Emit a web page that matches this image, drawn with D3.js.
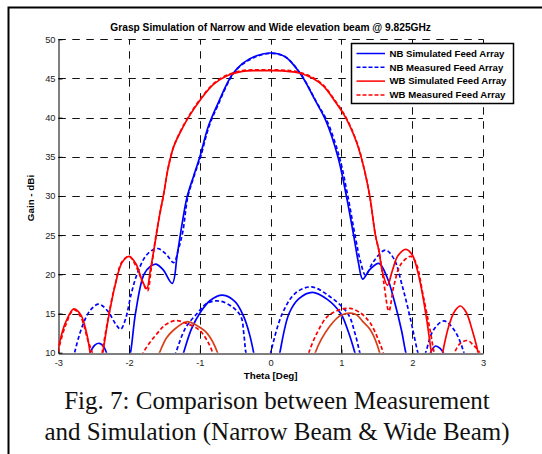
<!DOCTYPE html>
<html>
<head>
<meta charset="utf-8">
<script src="https://cdn.jsdelivr.net/npm/d3@7"></script>
<style>
body { margin: 0; background: #fff; }
svg { display: block; }
</style>
</head>
<body>
<div id="vis"></div>
<script>
// [theta (deg), gain (dBi)]; points under 10 are cut by the clip
const nbSim = [
  [-3.05, 6], [-2.6, 8], [-2.55, 10], [-2.48, 11.0], [-2.42, 11.2], [-2.36, 10.8], [-2.32, 10],
  [-2.2, 7], [-2.05, 7.5], [-1.98, 10], [-1.91, 15], [-1.79, 20], [-1.7, 21], [-1.62, 21.3],
  [-1.52, 20.6], [-1.39, 18.85], [-1.32, 22.5], [-1.25, 26.5], [-1.18, 29.9], [-1.09, 32.5],
  [-1.0, 35], [-0.88, 38.9], [-0.75, 41.7], [-0.55, 45.4], [-0.4, 46.9], [-0.2, 47.9],
  [0, 48.25], [0.2, 47.8], [0.42, 45.6], [0.63, 42.2], [0.78, 39.6], [0.95, 35], [1.07, 30],
  [1.18, 24.6], [1.24, 21.5], [1.3, 19.4], [1.4, 20.6], [1.53, 21.4], [1.65, 19.5],
  [1.75, 16.5], [1.85, 12.8], [1.91, 10], [2.0, 7], [2.2, 7.5], [2.26, 10], [2.33, 10.85],
  [2.4, 10.5], [2.44, 10], [2.55, 7], [3.05, 6]
]
const nbSimLow = [
  [-1.3, 8], [-1.23, 10], [-1.12, 13.0], [-0.99, 15.2], [-0.85, 16.7], [-0.68, 17.35],
  [-0.5, 16.5], [-0.38, 14.6], [-0.3, 12.4], [-0.24, 10], [-0.2, 8], [0.0, 5], [0.09, 8],
  [0.13, 10], [0.26, 15], [0.4, 16.9], [0.59, 17.7], [0.8, 16.8], [0.99, 15], [1.1, 12.6],
  [1.19, 10], [1.25, 8]
]
const nbMeas = [
  [-3.05, 5], [-2.83, 7.5], [-2.77, 10], [-2.66, 13.4], [-2.55, 15.4], [-2.43, 16.2],
  [-2.3, 15.3], [-2.2, 13.8], [-2.12, 13.0], [-2.05, 14.3], [-1.97, 17.5], [-1.88, 20.2],
  [-1.75, 22.5], [-1.6, 23.3], [-1.48, 22.6], [-1.37, 21.5], [-1.3, 23.3], [-1.24, 25.5],
  [-1.17, 29.9], [-1.08, 32.6], [-0.99, 35], [-0.87, 38.9], [-0.74, 41.7], [-0.55, 45.3],
  [-0.4, 46.8], [-0.2, 47.8], [0, 48.2], [0.2, 47.8], [0.43, 45.5], [0.64, 42.1],
  [0.8, 39.5], [0.97, 35], [1.09, 30], [1.2, 24.6], [1.27, 21.6], [1.34, 19.9],
  [1.45, 21.6], [1.62, 23.1], [1.74, 22.0], [1.86, 18.5], [1.97, 14.5], [2.08, 10],
  [2.13, 8.5], [2.19, 10], [2.3, 12.9], [2.45, 14.05], [2.6, 12.8], [2.73, 10], [2.8, 7],
  [3.05, 5]
]
const nbMeasLow = [
  [-1.42, 8], [-1.34, 10], [-1.2, 13.2], [-1.04, 15], [-0.9, 16.3], [-0.73, 16.6],
  [-0.55, 15.9], [-0.42, 14.6], [-0.38, 12.5], [-0.35, 10], [-0.3, 8], [-0.15, 5],
  [-0.05, 8], [0.0, 10], [0.165, 15], [0.35, 17.6], [0.57, 18.4], [0.8, 17.4], [1.09, 15],
  [1.19, 12.5], [1.26, 10], [1.32, 8]
]
const wbSim = [
  [-3.05, 9], [-3.0, 10.7], [-2.9, 13.8], [-2.78, 15.6], [-2.68, 14.8], [-2.6, 12.5],
  [-2.55, 10], [-2.5, 7], [-2.42, 7], [-2.37, 10], [-2.3, 14], [-2.2, 18.5], [-2.1, 21.5],
  [-2.0, 22.3], [-1.9, 21.3], [-1.82, 19.3], [-1.75, 18.2], [-1.7, 20.5], [-1.63, 24.2],
  [-1.57, 27.5], [-1.51, 30.3], [-1.45, 33.5], [-1.37, 36.3], [-1.25, 38.6], [-1.15, 40.2],
  [-1.0, 42.2], [-0.8, 44.3], [-0.6, 45.4], [-0.4, 45.9], [-0.2, 46.0], [0, 46.0],
  [0.2, 45.95], [0.4, 45.7], [0.6, 45.0], [0.75, 44.0], [0.9, 42.2], [1.06, 40],
  [1.22, 36.7], [1.32, 33.5], [1.4, 30], [1.48, 25], [1.53, 23], [1.58, 20.3], [1.65, 18.6],
  [1.72, 20.5], [1.8, 22.4], [1.91, 23.2], [2.0, 22.5], [2.1, 19.5], [2.2, 14.5], [2.27, 10],
  [2.32, 7], [2.38, 7], [2.43, 10], [2.52, 13.5], [2.6, 15.3], [2.68, 15.96], [2.76, 15.2],
  [2.85, 12.8], [2.93, 10], [2.97, 7]
]
const wbSimLow = [
  [-1.65, 8], [-1.57, 10], [-1.47, 11.9], [-1.37, 12.9], [-1.18, 13.96], [-1.05, 13.5],
  [-0.9, 12.5], [-0.75, 10], [-0.7, 8], [0, 4], [0.58, 8], [0.63, 10], [0.83, 13.3],
  [1.0, 14.8], [1.2, 14.9], [1.3, 14.0], [1.41, 12.9], [1.54, 10], [1.58, 8]
]
const wbMeas = [
  [-3.05, 8.5], [-3.0, 10.3], [-2.9, 13.4], [-2.78, 15.5], [-2.68, 14.5], [-2.58, 11.5],
  [-2.52, 10], [-2.46, 7], [-2.43, 7], [-2.38, 10], [-2.3, 14.2], [-2.2, 18.6], [-2.1, 21.6],
  [-2.0, 22.3], [-1.9, 21.0], [-1.8, 18.8], [-1.74, 17.9], [-1.69, 20.5], [-1.63, 24.4],
  [-1.57, 27.5], [-1.51, 30.3], [-1.45, 33.5], [-1.37, 36.3], [-1.25, 38.7], [-1.15, 40.3],
  [-1.0, 42.3], [-0.8, 44.4], [-0.6, 45.5], [-0.4, 46.0], [-0.2, 46.1], [0, 46.1],
  [0.2, 46.05], [0.4, 45.8], [0.6, 45.1], [0.75, 44.1], [0.9, 42.3], [1.06, 40.1],
  [1.22, 36.8], [1.32, 33.5], [1.4, 30], [1.48, 25], [1.53, 23], [1.6, 18.85], [1.67, 15.3],
  [1.74, 18.5], [1.84, 21.3], [1.98, 22.3], [2.06, 21.3], [2.15, 17.5], [2.25, 13], [2.31, 10],
  [2.4, 7], [2.53, 7], [2.6, 10], [2.68, 11.2], [2.78, 11.55], [2.86, 11.0], [2.95, 10],
  [3.0, 8]
]
const wbMeasLow = [
  [-1.88, 8], [-1.8, 10], [-1.6, 12.5], [-1.48, 13.6], [-1.34, 14.1], [-1.18, 13.7],
  [-1.01, 12.9], [-0.9, 11.6], [-0.82, 10], [-0.77, 8], [0, 4], [0.49, 8], [0.54, 10],
  [0.66, 12.6], [0.8, 14.6], [0.95, 15.4], [1.12, 15.66], [1.28, 15.0], [1.41, 13.75],
  [1.52, 11.7], [1.59, 10], [1.63, 8]
]

const xTicks = [-3, -2, -1, 0, 1, 2, 3]
const yTicks = [10, 15, 20, 25, 30, 35, 40, 45, 50]
const legendLabels = ["NB Simulated Feed Array", "NB Measured Feed Array", "WB Simulated Feed Array", "WB Measured Feed Array"]

const titleText = "Grasp Simulation of Narrow and Wide elevation beam @ 9.825GHz"
const captionLines = ["Fig. 7: Comparison between Measurement", "and Simulation (Narrow Beam & Wide Beam)"]

const width = 542, height = 454
const plot = {left: 58.3, right: 483, top: 39.3, bottom: 352.7}

let x = d3.scaleLinear().domain([-3, 3]).range([plot.left, plot.right])
let y = d3.scaleLinear().domain([10, 50]).range([plot.bottom, plot.top])

let svg = d3.select("#vis").append("svg")
    .attr("width", width)
    .attr("height", height)
    .attr("font-family", "'Liberation Sans', Arial, sans-serif")

svg.append("rect").attr("width", width).attr("height", height).attr("fill", "#fff")

// page frame (only top and left edges are in the picture)
svg.append("path")
    .attr("d", `M8.5,${height} V7.5 H${width}`)
    .attr("fill", "none")
    .attr("stroke", "#000")
    .attr("stroke-width", 2)

svg.append("clipPath").attr("id", "clip")
    .append("rect")
    .attr("x", plot.left).attr("y", plot.top)
    .attr("width", plot.right - plot.left).attr("height", plot.bottom - plot.top)

// grid
let grid = svg.append("g")
    .attr("stroke", "#111")
    .attr("stroke-width", 1)
    .attr("stroke-dasharray", "7.5,6.5")

grid.selectAll(".vx")
    .data(xTicks.slice(1))
    .join("line")
    .attr("x1", d => Math.round(x(d)) + 0.5).attr("x2", d => Math.round(x(d)) + 0.5)
    .attr("y1", plot.bottom).attr("y2", plot.top)

grid.selectAll(".hy")
    .data(yTicks.slice(1))
    .join("line")
    .attr("y1", d => Math.round(y(d)) + 0.5).attr("y2", d => Math.round(y(d)) + 0.5)
    .attr("x1", plot.left).attr("x2", plot.right)

// axes
let xAxis = svg.append("g")
    .attr("transform", `translate(0,${Math.round(plot.bottom) + 0.5})`)
    .call(d3.axisBottom(x).tickValues(xTicks).tickFormat(d => String(d))
        .tickSizeInner(-4).tickSizeOuter(0).tickPadding(6))
let yAxis = svg.append("g")
    .attr("transform", `translate(${Math.round(plot.left) + 0.5},0)`)
    .call(d3.axisLeft(y).tickValues(yTicks).tickFormat(d => String(d))
        .tickSizeInner(-4).tickSizeOuter(0).tickPadding(3))

svg.selectAll(".tick text")
    .attr("font-size", 9.3)
    .attr("font-family", "'Liberation Sans', Arial, sans-serif")
    .attr("fill", "#222")
svg.selectAll(".domain, .tick line").attr("stroke", "#000")

// curves
let line = d3.line()
    .x(d => x(d[0]))
    .y(d => y(d[1]))
    .curve(d3.curveCatmullRom.alpha(0.5))

const series = [
  {data: nbSim, color: "#0000ff", dash: null},
  {data: nbSimLow, color: "#0000ff", dash: null},
  {data: nbMeas, color: "#0000ff", dash: "4,2.5"},
  {data: nbMeasLow, color: "#0000ff", dash: "4,2.5"},
  {data: wbSim, color: "#ff0000", dash: null},
  {data: wbSimLow, color: "#d8401a", dash: null},
  {data: wbMeas, color: "#ff0000", dash: "4,2.5"},
  {data: wbMeasLow, color: "#ff0000", dash: "4,2.5"}
]

svg.append("g")
    .attr("clip-path", "url(#clip)")
    .selectAll("path")
    .data(series)
    .join("path")
    .attr("d", d => line(d.data))
    .attr("fill", "none")
    .attr("stroke", d => d.color)
    .attr("stroke-width", 1.7)
    .attr("stroke-dasharray", d => d.dash)

// legend
let legend = svg.append("g")
legend.append("rect")
    .attr("x", 351.5).attr("y", 43.5)
    .attr("width", 162).attr("height", 60)
    .attr("fill", "#fff")
    .attr("stroke", "#000")
    .attr("stroke-width", 1.5)

let items = legend.selectAll(".item")
    .data(legendLabels)
    .join("g")
    .attr("transform", (d, i) => `translate(0,${53.5 + i * 13.8})`)

items.append("line")
    .attr("x1", 356.5).attr("x2", 385)
    .attr("stroke", (d, i) => i < 2 ? "#0000ff" : "#ff0000")
    .attr("stroke-width", 1.5)
    .attr("stroke-dasharray", (d, i) => i % 2 ? "4,2" : null)

items.append("text")
    .attr("x", 389.5)
    .attr("dy", "0.35em")
    .attr("font-size", 9.6)
    .attr("font-weight", "bold")
    .text(d => d)

// titles
svg.append("text")
    .attr("x", (plot.left + plot.right) / 2)
    .attr("y", 31)
    .attr("text-anchor", "middle")
    .attr("font-size", 10.2)
    .attr("font-weight", "bold")
    .text(titleText)

svg.append("text")
    .attr("x", (plot.left + plot.right) / 2)
    .attr("y", 379)
    .attr("text-anchor", "middle")
    .attr("font-size", 9.8)
    .attr("font-weight", "bold")
    .text("Theta [Deg]")

svg.append("text")
    .attr("transform", `translate(34,198) rotate(-90)`)
    .attr("text-anchor", "middle")
    .attr("font-size", 9.8)
    .attr("font-weight", "bold")
    .text("Gain - dBi")

svg.selectAll(".caption")
    .data(captionLines)
    .join("text")
    .attr("x", 277)
    .attr("y", (d, i) => 409 + i * 31)
    .attr("text-anchor", "middle")
    .attr("font-family", "'Liberation Serif', 'Times New Roman', serif")
    .attr("font-size", 25)
    .attr("fill", "#111")
    .text(d => d)
</script>
</body>
</html>
